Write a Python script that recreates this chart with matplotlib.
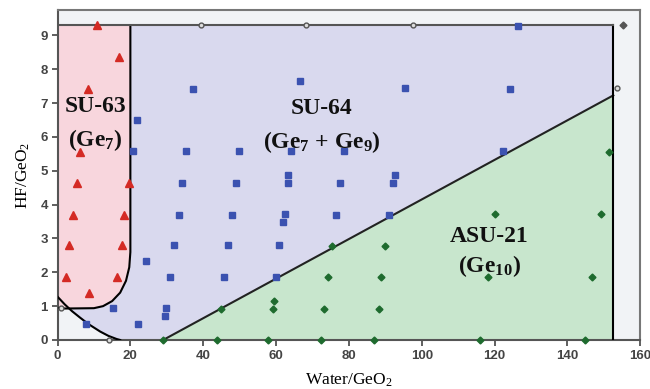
import matplotlib
matplotlib.use('Agg')
import matplotlib.pyplot as plt

# Phase regions
xmax, ymax = 160, 9.75
box_x, box_y = 152.6, 9.3          # upper limit of explored composition
diag_x = [29.0, 152.6]
diag_y = [0.0, 7.23]

# lower-left corner curve (boundary of SU-64)
corner_x = [0.0, 2.0, 4.0, 6.2, 8.5, 11.7, 14.0, 16.2, 17.2]
corner_y = [1.28, 1.05, 0.85, 0.66, 0.47, 0.25, 0.12, 0.03, 0.0]

# SU-63 region outline
pink_x = [0.0, 20.0, 20.0, 19.7, 18.8, 17.2, 15.0, 12.5, 10.0, 2.0, 0.0]
pink_y = [9.3, 9.3, 2.6, 2.15, 1.75, 1.4, 1.15, 1.0, 0.94, 0.93, 0.95]

# SU-63 points (triangles)
tri_x = [10.8, 17.0, 8.5, 6.2, 5.3, 19.7, 4.3, 18.3, 3.2, 17.6, 2.2, 16.2, 8.7]
tri_y = [9.3, 8.36, 7.42, 5.55, 4.64, 4.64, 3.69, 3.69, 2.8, 2.8, 1.85, 1.85, 1.38]

# SU-64 points (squares)
sq_x = [21.7, 20.8, 37.2, 35.4, 34.3, 33.3, 32.0, 24.2, 31.0, 15.1, 29.8, 29.6,
        7.8, 22.1, 66.5, 95.3, 49.9, 64.0, 78.6, 48.9, 63.3, 63.3, 77.5, 92.6,
        92.1, 47.8, 62.4, 61.8, 76.4, 91.0, 46.7, 60.8, 45.7, 60.1, 126.4, 124.3, 122.3]
sq_y = [6.51, 5.6, 7.42, 5.6, 4.64, 3.69, 2.8, 2.33, 1.85, 0.95, 0.95, 0.71,
        0.48, 0.48, 7.66, 7.44, 5.6, 5.6, 5.6, 4.65, 4.89, 4.65, 4.65, 4.89,
        4.65, 3.69, 3.71, 3.49, 3.69, 3.69, 2.8, 2.8, 1.85, 1.85, 9.29, 7.42, 5.58]

# ASU-21 points (diamonds)
dia_x = [29.0, 43.7, 57.8, 72.3, 86.8, 115.9, 144.9, 44.8, 59.2, 59.4, 73.2, 88.2,
         74.3, 88.9, 75.4, 90.0, 120.2, 149.3, 118.2, 146.8, 151.3]
dia_y = [0, 0, 0, 0, 0, 0, 0, 0.93, 0.93, 1.16, 0.93, 0.93,
         1.85, 1.85, 2.78, 2.78, 3.71, 3.71, 1.85, 1.85, 5.57]

# other (grey circles)
circ_x = [39.4, 68.3, 97.5, 153.5, 0.9, 14.1]
circ_y = [9.3, 9.3, 9.3, 7.44, 0.96, 0.0]
dark_x = [155.4]
dark_y = [9.3]

plt.rcParams['mathtext.default'] = 'regular'

fig = plt.figure(figsize=(6.5, 3.89), dpi=100)
ax = fig.add_axes([0.0885, 0.126, 0.8965, 0.848])
ax.set_facecolor('#f1f3f6')

# fills
blue_x = corner_x + [diag_x[0], diag_x[1], box_x, 0.0]
blue_y = corner_y + [diag_y[0], diag_y[1], box_y, box_y]
ax.fill(blue_x, blue_y, color='#d9d9ee', zorder=1)
ax.fill([diag_x[0], diag_x[1], box_x], [diag_y[0], diag_y[1], 0.0], color='#c8e6cd', zorder=1)
ax.fill(pink_x, pink_y, color='#f8d6dd', zorder=2)

# boundaries
ax.plot(pink_x[1:], pink_y[1:], color='black', lw=1.5, zorder=3)
ax.plot(corner_x, corner_y, color='black', lw=1.5, zorder=3)
ax.plot(diag_x, diag_y, color='#222222', lw=1.5, zorder=3)
ax.plot([box_x, box_x], [0, box_y], color='black', lw=1.5, zorder=3)
ax.plot([0, box_x], [box_y, box_y], color='#555555', lw=1.5, zorder=3)

# points
ax.plot(tri_x, tri_y, '^', color='#d42a24', ms=5.5, ls='none', zorder=4, clip_on=False)
ax.plot(sq_x, sq_y, 's', color='#3b52b0', ms=3.8, ls='none', zorder=4, clip_on=False)
ax.plot(dia_x, dia_y, 'D', color='#1e6b2e', ms=3.5, ls='none', zorder=4, clip_on=False)
ax.plot(circ_x, circ_y, 'o', mfc='#dddddd', mec='#555555', mew=1, ms=3.5, ls='none',
        zorder=4, clip_on=False)
ax.plot(dark_x, dark_y, 'D', color='#555555', ms=3.5, ls='none', zorder=4, clip_on=False)

# labels of regions
lab = dict(family='Liberation Serif', fontweight='bold', fontsize=17,
           ha='center', va='center', color='#111111', zorder=5)
ax.text(10.5, 6.9, 'SU-63', **lab)
ax.text(10.5, 5.9, '(Ge$_{7}$)', **lab)
ax.text(72.5, 6.85, 'SU-64', **lab)
ax.text(72.5, 5.85, '(Ge$_{7}$ + Ge$_{9}$)', **lab)
ax.text(118.5, 3.05, 'ASU-21', **lab)
ax.text(118.5, 2.2, '(Ge$_{10}$)', **lab)

ax.set_xlim(0, xmax)
ax.set_ylim(0, ymax)
ax.set_xticks(range(0, 161, 20))
ax.set_yticks(range(0, 10))
ax.tick_params(direction='out', length=4, width=1.2, colors='#444444',
               labelsize=9.5, pad=3)
for t in ax.get_xticklabels() + ax.get_yticklabels():
    t.set_fontweight('bold')
    t.set_family('Liberation Sans')
for s in ['left', 'bottom']:
    ax.spines[s].set_color('#555555')
    ax.spines[s].set_linewidth(1.5)
for s in ['top', 'right']:
    ax.spines[s].set_color('#777777')
    ax.spines[s].set_linewidth(1.5)

ax.set_xlabel('Water/GeO$_2$', family='Liberation Serif', fontsize=12.5, labelpad=7)
ax.set_ylabel('HF/GeO$_2$', family='Liberation Serif', fontsize=12.5, labelpad=6)

plt.savefig('out.png', dpi=100)
